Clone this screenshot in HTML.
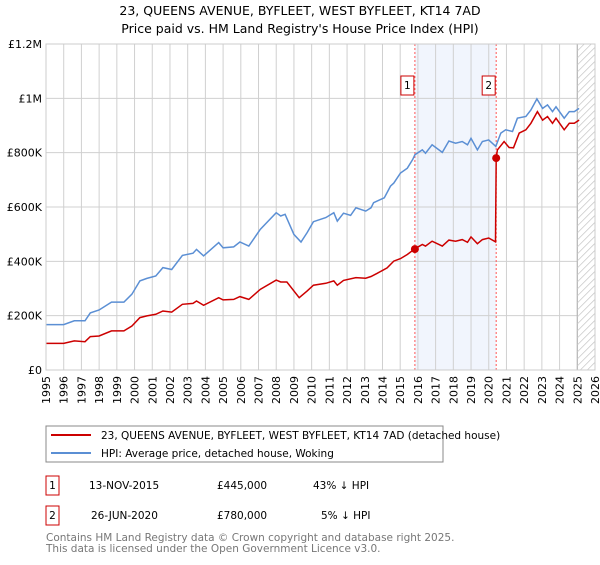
<!DOCTYPE html>
<html><head><meta charset="utf-8"><style>
body{margin:0;background:#fff;font-family:"Liberation Sans","DejaVu Sans",sans-serif;}
svg text{font-family:"DejaVu Sans","Liberation Sans",sans-serif;}
</style></head><body>
<svg id="c" width="600" height="560" xmlns="http://www.w3.org/2000/svg">
<text x="300" y="15" text-anchor="middle" font-size="12.5">23, QUEENS AVENUE, BYFLEET, WEST BYFLEET, KT14 7AD</text>
<text x="300" y="33" text-anchor="middle" font-size="12.5">Price paid vs. HM Land Registry's House Price Index (HPI)</text>
<g id="plot"></g>
<g>
<rect x="46" y="426" width="397" height="36" fill="#fff" stroke="#888"/>
<line x1="51" y1="435" x2="91" y2="435" stroke="#cc0000" stroke-width="2"/>
<text x="101" y="439" font-size="10.5">23, QUEENS AVENUE, BYFLEET, WEST BYFLEET, KT14 7AD (detached house)</text>
<line x1="51" y1="453" x2="91" y2="453" stroke="#5b8fd4" stroke-width="2"/>
<text x="101" y="457" font-size="10.5">HPI: Average price, detached house, Woking</text>
</g>
<g font-size="10.5">
<rect x="46" y="476" width="13" height="19" fill="#fff" stroke="#cc0000"/>
<text x="52.5" y="489" text-anchor="middle">1</text>
<text x="89" y="489">13-NOV-2015</text>
<text x="217" y="489">£445,000</text>
<text x="313" y="489">43% ↓ HPI</text>
<rect x="46" y="506" width="13" height="19" fill="#fff" stroke="#cc0000"/>
<text x="52.5" y="519" text-anchor="middle">2</text>
<text x="91" y="519">26-JUN-2020</text>
<text x="217" y="519">£780,000</text>
<text x="321" y="519">5% ↓ HPI</text>
</g>
<text x="46" y="541" font-size="10.5" fill="#777">Contains HM Land Registry data © Crown copyright and database right 2025.</text>
<text x="46" y="552" font-size="10.5" fill="#777">This data is licensed under the Open Government Licence v3.0.</text>
</svg>
<script>
const yTicks=[0,200,400,600,800,1000,1200];
const yTickLabels=["£0","£200K","£400K","£600K","£800K","£1M","£1.2M"];
const years=[1995,1996,1997,1998,1999,2000,2001,2002,2003,2004,2005,2006,2007,2008,2009,2010,2011,2012,2013,2014,2015,2016,2017,2018,2019,2020,2021,2022,2023,2024,2025,2026];
const hpiT=[1995,1996,1996.6,1997.2,1997.5,1998,1998.7,1999.4,1999.85,2000.3,2000.7,2001.2,2001.6,2002.1,2002.7,2003.3,2003.5,2003.9,2004.75,2005,2005.6,2005.95,2006.45,2007.1,2008,2008.25,2008.5,2009,2009.4,2009.75,2010.1,2010.8,2011.25,2011.45,2011.8,2012.2,2012.5,2013.05,2013.35,2013.5,2014.1,2014.45,2014.64,2015.02,2015.4,2015.7,2015.83,2016.25,2016.43,2016.8,2017.38,2017.75,2018.13,2018.5,2018.8,2019,2019.36,2019.64,2020,2020.4,2020.68,2020.96,2021.34,2021.62,2022.1,2022.38,2022.72,2023.04,2023.32,2023.6,2023.8,2024.26,2024.55,2024.83,2025.1];
const hpiV=[167,167,181,181,210,221,250,250,279,328,337,346,377,370,422,430,444,420,469,450,453,471,456,518,579,567,573,499,471,506,546,561,579,548,577,569,597,585,597,616,634,677,688,725,743,774,792,810,798,829,801,843,835,841,829,853,810,841,847,823,872,884,878,927,933,957,998,963,976,951,969,927,951,951,963];
const priceT=[1995,1996,1996.6,1997.2,1997.5,1998,1998.7,1999.4,1999.85,2000.3,2000.7,2001.2,2001.6,2002.1,2002.7,2003.3,2003.5,2003.9,2004.75,2005,2005.6,2005.95,2006.45,2007.1,2008,2008.25,2008.6,2009.3,2009.75,2010.1,2010.8,2011.25,2011.45,2011.8,2012.5,2013.05,2013.35,2013.7,2014.26,2014.64,2015.02,2015.4,2015.83,2016.25,2016.43,2016.8,2017.38,2017.75,2018.13,2018.5,2018.8,2019,2019.36,2019.64,2020,2020.38,2020.42,2020.49,2020.87,2021.15,2021.4,2021.72,2022.1,2022.38,2022.75,2023.04,2023.32,2023.6,2023.8,2024.26,2024.55,2024.83,2025.1];
const priceV=[98,98,107,104,123,125,144,144,162,193,199,205,217,213,242,245,254,238,266,258,260,270,260,297,331,324,324,266,291,312,319,328,312,330,340,338,344,356,376,401,410,425,446,462,456,474,456,478,474,480,470,490,465,480,486,472,780,810,841,819,818,872,884,908,951,920,933,908,927,884,908,908,920];
const sales=[{t:2015.83,v:445,n:"1"},{t:2020.42,v:780,n:"2"}];
const X0=46,X1=595,Y0=370,Y1=44,T0=1995,T1=2026,VMAX=1200;
const x=t=>X0+(t-T0)/(T1-T0)*(X1-X0);
const y=v=>Y0-v/VMAX*(Y0-Y1);
const NS="http://www.w3.org/2000/svg";
const g=document.getElementById('plot');
function mk(tag,attrs){const e=document.createElementNS(NS,tag);for(const k in attrs)e.setAttribute(k,attrs[k]);g.appendChild(e);return e;}
let e;
e=mk('rect',{x:x(sales[0].t),y:Y1,width:x(sales[1].t)-x(sales[0].t),height:Y0-Y1,fill:'#eef3fc',opacity:0.8});


years.forEach(t=>{const l=mk('line',{x1:x(t),x2:x(t),y1:Y1,y2:Y0,stroke:'#d0d0d0'});


const tx=mk('text',{x:0,y:0,'font-size':11,'text-anchor':'end',transform:`translate(${x(t)+4},${Y0+6}) rotate(-90)`});tx.textContent=t;

});
yTicks.forEach((v,i)=>{const l=mk('line',{x1:X0,x2:X1,y1:y(v),y2:y(v),stroke:'#d0d0d0'});


const tx=mk('text',{x:X0-4,y:y(v)+4,'font-size':11,'text-anchor':'end'});tx.textContent=yTickLabels[i];

});
// hatch
const hx=x(2025.0);
e=mk('rect',{x:hx,y:Y1,width:X1-hx,height:Y0-Y1,fill:'#fff',stroke:'#aaa'});


const hw=X1-hx;
for(let k=Y1;k<Y0+hw;k+=7){
let xa=hx,ya=k,xb=X1,yb=k-hw;
if(ya>Y0){xa=hx+(ya-Y0);ya=Y0;}
if(yb<Y1){xb=X1-(Y1-yb);yb=Y1;}
if(xa>=xb)continue;
const l=mk('line',{x1:xa,y1:ya,x2:xb,y2:yb,stroke:'#ccc','stroke-width':0.8});

}
function path(T,V,col,name){const d=T.map((t,i)=>(i?'L':'M')+x(t).toFixed(1)+','+y(V[i]).toFixed(1)).join('');
const p=mk('path',{d:d,fill:'none',stroke:col,'stroke-width':1.5});

}
sales.forEach(s=>{const l=mk('line',{x1:x(s.t),x2:x(s.t),y1:Y1,y2:Y0,stroke:'#ff5555','stroke-dasharray':'2,2','stroke-width':1});

});
path(hpiT,hpiV,'#5b8fd4','hpi-line');
path(priceT,priceV,'#cc0000','price-line');
sales.forEach(s=>{const c=mk('circle',{cx:x(s.t),cy:y(s.v),r:4,fill:'#cc0000'});


const r=mk('rect',{x:x(s.t)-14,y:76,width:13,height:19,fill:'#fff',stroke:'#cc0000'});


const t=mk('text',{x:x(s.t)-7.5,y:89,'font-size':10.5,'text-anchor':'middle'});t.textContent=s.n;

});
const bx=mk('rect',{x:X0,y:Y1,width:X1-X0,height:Y0-Y1,fill:'none',stroke:'#ccc'});


</script>
</body></html>
